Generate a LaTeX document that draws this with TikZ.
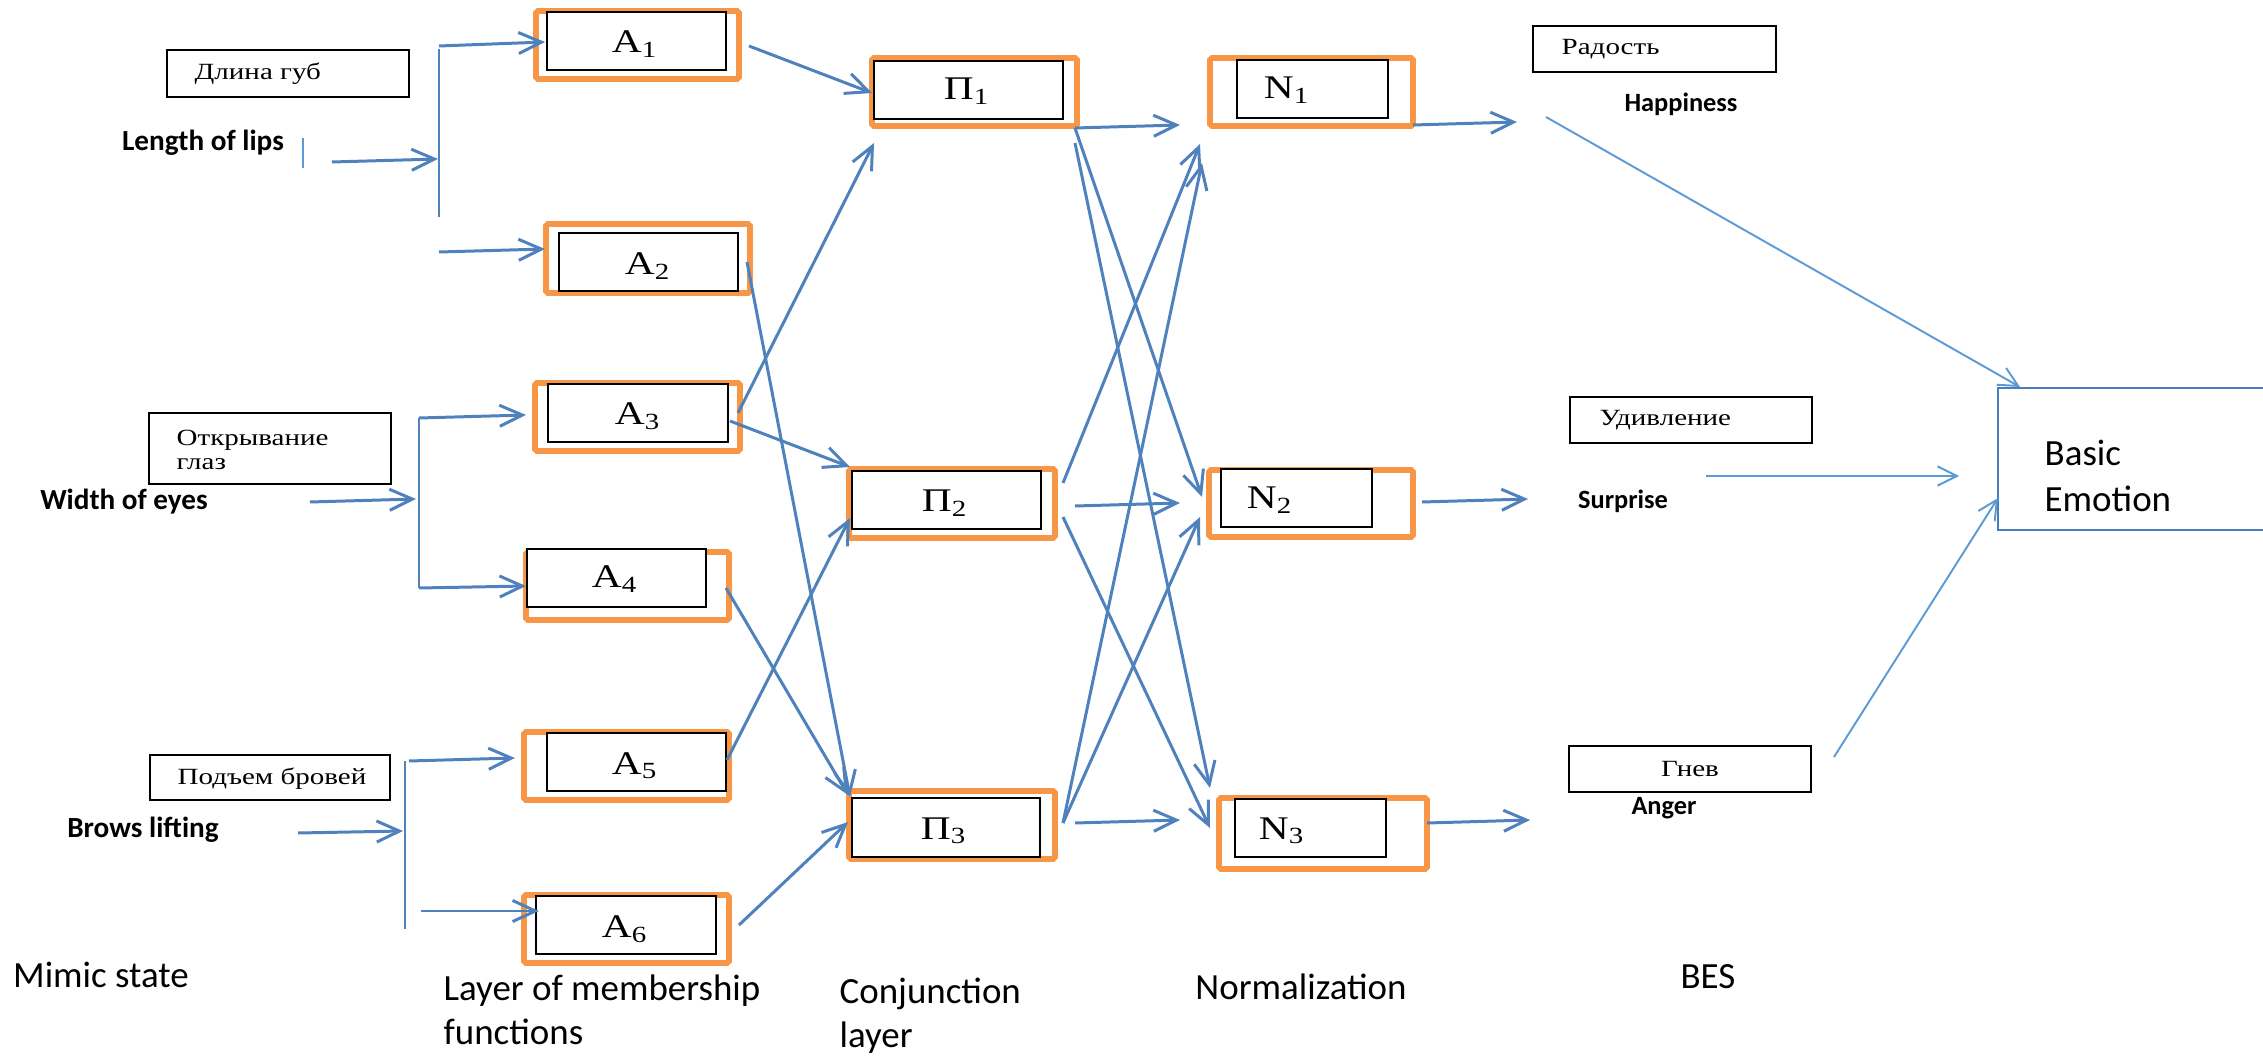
\documentclass[tikz,border=0pt]{standalone}
\usepackage{fontspec}
\setmainfont{Liberation Serif}
\newfontfamily\calfont{Carlito}
\newfontfamily\tnrfont[FakeStretch=1.25]{Liberation Serif}
\usetikzlibrary{arrows.meta,fit}
\definecolor{arrblue}{RGB}{79,129,189}
\definecolor{ltblue}{RGB}{91,155,213}
\definecolor{orng}{RGB}{247,150,70}
\definecolor{boxblue}{RGB}{74,126,187}
\tikzset{
  arr/.style={draw=arrblue, line width=0.85pt, -{Straight Barb[length=6.5pt,width=6pt,line width=0.85pt]}},
  plain/.style={draw=arrblue, line width=0.85pt},
  larr/.style={draw=ltblue, line width=0.55pt, -{Straight Barb[length=5.5pt,width=5.5pt,line width=0.55pt]}},
  obox/.style={draw=orng, line width=1.6pt, rounded corners=0.5pt, inner sep=0pt},
  bbox/.style={draw=black, fill=white, line width=0.75pt, inner sep=0pt},
  tbox/.style={draw=black, line width=0.7pt, inner sep=0pt},
  symlbl/.style={inner sep=0pt, font=\tnrfont\fontsize{9.4}{10}\selectfont},
  rulbl/.style={inner sep=0pt, font=\tnrfont\fontsize{6.6}{7}\selectfont, align=left},
  inlbl/.style={inner sep=0pt, font=\calfont\bfseries\fontsize{8.3}{10}\selectfont},
  outlbl/.style={inner sep=0pt, font=\calfont\bfseries\fontsize{7.5}{9}\selectfont},
  biglbl/.style={inner sep=0pt, font=\calfont\fontsize{10.5}{12.5}\selectfont, align=left},
}
\begin{document}
\begin{tikzpicture}[x=0.01cm, y=-0.01cm]
\useasboundingbox (0,0) rectangle (2263,1058);
\clip (0,0) rectangle (2263,1058);

% ---------- orange frames ----------
\node[obox, fit={(536,11) (739,79)}] (a1o) {};
\node[obox, fit={(546,224) (750,293)}] (a2o) {};
\node[obox, fit={(535,383) (740,451)}] (a3o) {};
\node[obox, fit={(526,552) (729,620)}] (a4o) {};
\node[obox, fit={(524,732) (729,800)}] (a5o) {};
\node[obox, fit={(524,895) (729,963)}] (a6o) {};
\node[obox, fit={(872,58) (1077,126)}] (p1o) {};
\node[obox, fit={(849,469) (1055,538)}] (p2o) {};
\node[obox, fit={(849,791) (1055,859)}] (p3o) {};
\node[obox, fit={(1210,58) (1413,126)}] (n1o) {};
\node[obox, fit={(1209,470) (1413,537)}] (n2o) {};
\node[obox, fit={(1219,798) (1427,869)}] (n3o) {};

% ---------- black boxes ----------
\node[bbox, fit={(547,12) (726,70)}] (a1) {};
\node[bbox, fit={(559,233) (738,291)}] (a2) {};
\node[bbox, fit={(548,384) (728,442)}] (a3) {};
\node[bbox, fit={(527,549) (706,607)}] (a4) {};
\node[bbox, fit={(547,733) (726,791)}] (a5) {};
\node[bbox, fit={(536,896) (716,954)}] (a6) {};
\node[bbox, fit={(874,61) (1063,119)}] (p1) {};
\node[bbox, fit={(852,471) (1041,529)}] (p2) {};
\node[bbox, fit={(852,798) (1040,857)}] (p3) {};
\node[bbox, fit={(1237,60) (1388,118)}] (n1) {};
\node[bbox, fit={(1221,469) (1372,527)}] (n2) {};
\node[bbox, fit={(1235,799) (1386,857)}] (n3) {};

\node[symlbl] (a1t) at (635,44) {A\textsubscript{1}};
\node[symlbl] (a2t) at (648,266) {A\textsubscript{2}};
\node[symlbl] (a3t) at (638,416) {A\textsubscript{3}};
\node[symlbl] (a4t) at (615,579) {A\textsubscript{4}};
\node[symlbl] (a5t) at (635,766) {A\textsubscript{5}};
\node[symlbl] (a6t) at (625,929) {A\textsubscript{6}};
\node[symlbl] (p1t) at (967,91) {Π\textsubscript{1}};
\node[symlbl] (p2t) at (945,503) {Π\textsubscript{2}};
\node[symlbl] (p3t) at (944,831) {Π\textsubscript{3}};
\node[symlbl] (n1t) at (1287,90) {N\textsubscript{1}};
\node[symlbl] (n2t) at (1270,500) {N\textsubscript{2}};
\node[symlbl] (n3t) at (1282,831) {N\textsubscript{3}};

% ---------- Russian text boxes ----------
\node[tbox, fit={(167,50) (409,97)}] (r1) {};
\node[rulbl, anchor=west] (r1t) at (194,74) {Длина губ};
\node[tbox, fit={(149,413) (391,484)}] (r2) {};
\node[rulbl, anchor=west] (r2t) at (176,450) {Открывание\\глаз};
\node[tbox, fit={(150,755) (390,800)}] (r3) {};
\node[rulbl, anchor=west] (r3t) at (177,779) {Подъем бровей};
\node[tbox, fit={(1533,26) (1776,72)}] (r4) {};
\node[rulbl, anchor=west] (r4t) at (1561,49) {Радость};
\node[tbox, fit={(1570,397) (1812,443)}] (r5) {};
\node[rulbl, anchor=west] (r5t) at (1599,420) {Удивление};
\node[tbox, fit={(1569,746) (1811,792)}] (r6) {};
\node[rulbl] (r6t) at (1690,769) {Гнев};

\node[draw=boxblue, line width=0.8pt, inner sep=0pt, fit={(1998,388) (2290,530)}] (be) {};
\node[biglbl, anchor=west] (bet) at (2044,476) {Basic\\[0.6pt]Emotion};

% ---------- labels ----------
\node[inlbl] (l1) at (203,143) {Length of lips};
\node[inlbl] (l2) at (124,502) {Width of eyes};
\node[inlbl] (l3) at (143,830) {Brows lifting};
\node[outlbl] (o1) at (1681,104) {Happiness};
\node[outlbl] (o2) at (1623,501) {Surprise};
\node[outlbl] (o3) at (1664,808) {Anger};
\node[biglbl] (m1) at (101,975) {Mimic state};
\node[biglbl, anchor=west] (m2) at (443,1010) {Layer of membership\\functions};
\node[biglbl, anchor=west] (m3) at (839,1016) {Conjunction\\layer};
\node[biglbl] (m4) at (1301,987) {Normalization};
\node[biglbl] (m5) at (1708,977) {BES};

% ---------- input connectors ----------
\coordinate (tk1) at (303,138); \coordinate (tk2) at (303,168);
\draw[draw=ltblue, line width=0.6pt] (tk1) -- (tk2);
\coordinate (i1s) at (332,162); \coordinate (i1t) at (438,159);
\draw[arr] (i1s) -- (i1t);
\coordinate (b1a) at (439,49); \coordinate (b1b) at (439,217);
\draw[plain] (b1a) -- (b1b);
\coordinate (b1u) at (439,46); \coordinate (b1d) at (439,252);
\coordinate (a1in) at (545,42); \coordinate (a2in) at (545,249);
\draw[arr] (b1u) -- (a1in);
\draw[arr] (b1d) -- (a2in);

\coordinate (i2s) at (310,502); \coordinate (i2t) at (416,499);
\draw[arr] (i2s) -- (i2t);
\coordinate (b2a) at (419,418); \coordinate (b2b) at (419,588);
\draw[plain] (b2a) -- (b2b);
\coordinate (a3in) at (526,415); \coordinate (a4in) at (526,586);
\draw[arr] (b2a) -- (a3in);
\draw[arr] (b2b) -- (a4in);

\coordinate (i3s) at (298,833); \coordinate (i3t) at (403,831);
\draw[arr] (i3s) -- (i3t);
\coordinate (b3a) at (405,761); \coordinate (b3b) at (405,929);
\draw[plain] (b3a) -- (b3b);
\coordinate (b3u) at (409,761); \coordinate (b3d) at (421,911);
\coordinate (a5in) at (515,758); \coordinate (a6in) at (539,911);
\draw[arr] (b3u) -- (a5in);
\draw[arr] (b3d) -- (a6in);

% ---------- A -> Pi ----------
\coordinate (a1r) at (749,46);  \coordinate (p1a) at (872,93);
\coordinate (a3r) at (738,413); \coordinate (p1b) at (874,143);
\coordinate (a3q) at (730,421); \coordinate (p2a) at (850,467);
\coordinate (a5r) at (727,760); \coordinate (p2b) at (850,518);
\coordinate (a2r) at (747,262); \coordinate (p3a) at (850,797);
\coordinate (a4r) at (726,588); \coordinate (p3b) at (848,795);
\coordinate (a6r) at (739,925); \coordinate (p3c) at (848,822);
\draw[arr] (a1r) -- (p1a);
\draw[arr] (a3r) -- (p1b);
\draw[arr] (a3q) -- (p2a);
\draw[arr] (a5r) -- (p2b);
\draw[arr] (a2r) -- (p3a);
\draw[arr] (a4r) -- (p3b);
\draw[arr] (a6r) -- (p3c);

% ---------- Pi -> N ----------
\coordinate (p1r) at (1075,128); \coordinate (p1q) at (1075,143);
\coordinate (p2r) at (1075,506); \coordinate (p2u) at (1063,483); \coordinate (p2d) at (1063,517);
\coordinate (p3r) at (1075,823); \coordinate (p3u) at (1063,823);
\coordinate (n1a) at (1180,125); \coordinate (n1b) at (1200,144); \coordinate (n1c) at (1202,163);
\coordinate (n2a) at (1180,503); \coordinate (n2b) at (1202,497); \coordinate (n2c) at (1200,517);
\coordinate (n3a) at (1180,820); \coordinate (n3b) at (1210,788); \coordinate (n3c) at (1210,828);
\draw[arr] (p1r) -- (n1a);
\draw[arr] (p2r) -- (n2a);
\draw[arr] (p3r) -- (n3a);
\draw[arr] (p1r) -- (n2b);
\draw[arr] (p1q) -- (n3b);
\draw[arr] (p2u) -- (n1b);
\draw[arr] (p2d) -- (n3c);
\draw[arr] (p3u) -- (n1c);
\draw[arr] (p3u) -- (n2c);

% ---------- N -> outputs ----------
\coordinate (n1r) at (1413,125); \coordinate (h1) at (1517,122);
\coordinate (n2r) at (1422,502); \coordinate (h2) at (1528,499);
\coordinate (n3r) at (1427,823); \coordinate (h3) at (1530,820);
\draw[arr] (n1r) -- (h1);
\draw[arr] (n2r) -- (h2);
\draw[arr] (n3r) -- (h3);

% ---------- outputs -> Basic Emotion ----------
\coordinate (e1s) at (1546,117); \coordinate (e1t) at (2020,387);
\coordinate (e2s) at (1706,476); \coordinate (e2t) at (1959,476);
\coordinate (e3s) at (1834,757); \coordinate (e3t) at (1998,498);
\draw[larr] (e1s) -- (e1t);
\draw[larr] (e2s) -- (e2t);
\draw[larr] (e3s) -- (e3t);
\end{tikzpicture}
\end{document}
